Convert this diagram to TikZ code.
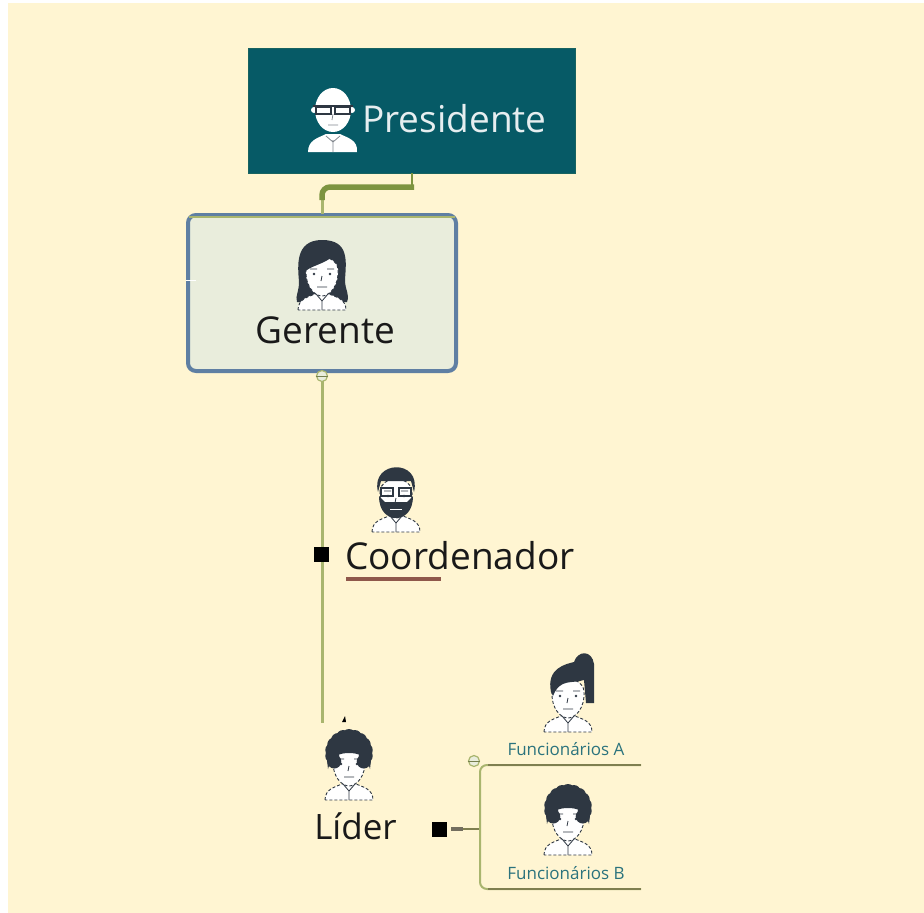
\documentclass[tikz,border=0pt]{standalone}
\usepackage{fontspec}
\setmainfont{Open Sans}
\usetikzlibrary{calc,positioning}
\definecolor{paper}{HTML}{FFF5D2}
\definecolor{teal}{HTML}{065A66}
\definecolor{hair}{HTML}{2E3742}
\definecolor{branch}{HTML}{A9B56E}
\definecolor{thickbranch}{HTML}{7D9440}
\definecolor{frame}{HTML}{5F7FA3}
\definecolor{tint}{HTML}{E9EDDC}
\definecolor{twig}{HTML}{7F7F50}
\tikzset{
  bigtext/.style={inner sep=0pt,text=black!90,font=\fontsize{37}{44}\selectfont},
  smalltext/.style={inner sep=0pt,text=teal!85,font=\fontsize{17}{20}\selectfont},
  handle/.style={draw=branch,fill=tint,circle,inner sep=0pt,minimum size=11pt,line width=1.2pt},
  blacksq/.style={fill=black,inner sep=0pt,minimum size=15pt},
  pics/bust/.style={code={
    \draw[fill=white,draw=#1,densely dashed,line width=.9pt] (-24,35) .. controls (-24,24) and (-14,22) .. (-7,19)
       -- (7,19) .. controls (14,22) and (24,24) .. (24,35) -- cycle;
    \draw[fill=white,draw=#1,densely dashed,line width=.9pt] (-16,-6) .. controls (-17,12) and (-7,21) .. (0,21)
       .. controls (7,21) and (17,12) .. (16,-6) .. controls (14,-22) and (-14,-22) .. (-16,-6) -- cycle;
    \fill[#1] (-8,-1) circle (1.4pt) (8,-1) circle (1.4pt);
    \draw[#1,line width=.8pt] (-12,-6) -- (-5,-6) (5,-6) -- (12,-6) (0,1) -- (-1,6) (-5,12) -- (5,12);
    \draw[#1,line width=.8pt] (0,26) -- (0,35) (-6,19) -- (0,26) -- (6,19);
  }},
  pics/curly/.style={code={
    \foreach \a in {150,170,...,390}
      \fill[hair] ($(0,-12)+(\a:17)$) circle (7);
    \fill[hair] (-21,4) .. controls (-18,-10) and (-8,-12) .. (0,-12) .. controls (8,-12) and (18,-10) .. (21,4)
       -- (23,-14) .. controls (20,-38) and (-20,-38) .. (-23,-14) -- cycle;
  }}
}
\begin{document}
\begin{tikzpicture}[x=1pt,y=-1pt]
\useasboundingbox (0,0) rectangle (924,913);
\fill[white] (0,0) rectangle (924,913);
\fill[paper] (8,3) rectangle (924,914);

\coordinate (tickL) at (186,280);
\coordinate (tickR) at (196,280);
\coordinate (stemTop) at (412,173);
\coordinate (stemLow) at (412,189);
\coordinate (bendR) at (414,187);
\coordinate (bendC) at (322,187);
\coordinate (bendL) at (322,200);
\coordinate (entry) at (322,214);
\coordinate (lineEnd) at (322,723);
\coordinate (squareA) at (321,554);
\coordinate (squareB) at (439,829);
\coordinate (dashL) at (451,829);
\coordinate (dashR) at (463,829);
\coordinate (joinB) at (480,829);
\coordinate (topCorner) at (480,765);
\coordinate (lowCorner) at (480,889);
\coordinate (topStart) at (488,765);
\coordinate (lowStart) at (488,889);
\coordinate (topEnd) at (641,765);
\coordinate (lowEnd) at (641,889);
\coordinate (ulineL) at (346,579);
\coordinate (ulineR) at (441,579);
\coordinate (innerL) at (189,217);
\coordinate (innerR) at (455,217);

\node[draw=teal!85!thickbranch,fill=teal,inner sep=0pt,minimum width=327pt,minimum height=125pt] (presidente) at (411.5,110.5) {};
\node[draw=frame,line width=4pt,fill=tint,rounded corners=8pt,inner sep=0pt,minimum width=268pt,minimum height=156pt] (gerente) at (322,293) {};

% connectors
\draw[thickbranch,line width=2.5pt] (stemTop) -- (stemLow);
\draw[branch,line width=3pt] (bendL) -- (entry);
\draw[thickbranch,line width=5.5pt,rounded corners=8pt] (bendR) -- (bendC) -- (bendL);
\draw[branch,line width=1.2pt] (innerL) -- (innerR);
\draw[white,line width=1pt] (tickL) -- (tickR);
\draw[branch,line width=3pt] (gerente.south) -- (lineEnd);
\node[handle] (minusA) at (322,376) {};
\draw[branch!70!black,line width=.8pt] (minusA.west) -- (minusA.east);

\node[blacksq] (sqA) at (squareA) {};
\node[blacksq] (sqB) at (squareB) {};
\draw[black!55!paper,line width=3.5pt] (dashL) -- (dashR);
\draw[twig,line width=1.2pt] (dashR) -- (joinB);
\draw[branch,line width=2pt,rounded corners=7pt] (topEnd) -- (topCorner) -- (lowCorner) -- (lowEnd);
\draw[twig,line width=1.5pt] (topStart) -- (topEnd);
\draw[twig,line width=1.5pt] (lowStart) -- (lowEnd);
\node[handle] (minusB) at (474,761) {};
\draw[branch!70!black,line width=.8pt] (minusB.west) -- (minusB.east);
\fill[black] (342,722) -- (345,716) -- (346,722) -- cycle;

% Presidente
\fill[white] (333,110) ellipse (18 and 22);
\fill[white] (308,152) .. controls (308,140) and (318,138) .. (326,134) -- (340,134) .. controls (348,138) and (358,140) .. (357,152) -- cycle;
\fill[white] (314,110) circle (3) (352,110) circle (3);
\draw[hair,line width=1.6pt] (316,107) rectangle (331,114) (335,107) rectangle (350,114);
\draw[hair,line width=1.6pt] (313,106) -- (353,106);
\draw[hair!60,line width=.8pt] (328,125) -- (338,125) (333,114) -- (332,120) (333,140) -- (333,152) (326,136) -- (333,142) -- (340,136);
\node[bigtext,text=white!90!teal,anchor=base west] (presidenteT) at (362,132) {Presidente};

% Gerente
\fill[hair] (322,240) .. controls (294,240) and (298,268) .. (299,282) .. controls (299,292) and (295,296) .. (297,302)
   -- (347,302) .. controls (350,294) and (345,290) .. (345,280) .. controls (346,262) and (350,240) .. (322,240) -- cycle;
\pic at (322,275) {bust=hair};
\fill[hair] (322,241) .. controls (305,241) and (303,255) .. (305,272) .. controls (309,266) and (326,264) .. (334,255)
   .. controls (336,262) and (338,266) .. (340,272) .. controls (342,255) and (338,241) .. (322,241) -- cycle;
\node[bigtext,anchor=base] (gerenteT) at (325.5,343.5) {Gerente};

% Coordenador
\pic at (396,497) {bust=hair};
\fill[hair] (378,492) .. controls (370,460) and (422,458) .. (414,492) -- (411,481) -- (381,481) -- cycle;
\fill[hair] (379,496) .. controls (379,512) and (388,518) .. (396,518) .. controls (404,518) and (413,512) .. (413,496)
   -- (407,502) -- (385,502) -- cycle;
\draw[white,line width=1pt] (390,509) -- (402,509);
\draw[hair,line width=1.2pt] (381,488) rectangle (393,496) (399,488) rectangle (411,496);
\node[bigtext,anchor=base west] (coordenadorT) at (345,569) {Coordenador};
\draw[black!55!paper!80!red,line width=3.2pt] (ulineL) -- (ulineR);

% Lider
\pic at (349,765) {bust=hair};
\pic at (349,765) {curly};
\node[bigtext,font=\fontsize{35}{42}\selectfont,anchor=base] (liderT) at (355.5,839) {Líder};

% Funcionarios A
\pic at (568,697) {bust=hair};
\fill[hair] (551,692) .. controls (546,668) and (566,664) .. (574,662) .. controls (578,650) and (592,650) .. (594,664)
   -- (594,703) -- (586,703) -- (584,680) .. controls (572,684) and (560,678) .. (553,696) -- cycle;
\node[smalltext,anchor=base] (funcA) at (566,755) {Funcionários A};

% Funcionarios B
\pic at (568,820) {bust=hair};
\pic at (568,820) {curly};
\node[smalltext,anchor=base] (funcB) at (566,879) {Funcionários B};
\end{tikzpicture}
\end{document}
